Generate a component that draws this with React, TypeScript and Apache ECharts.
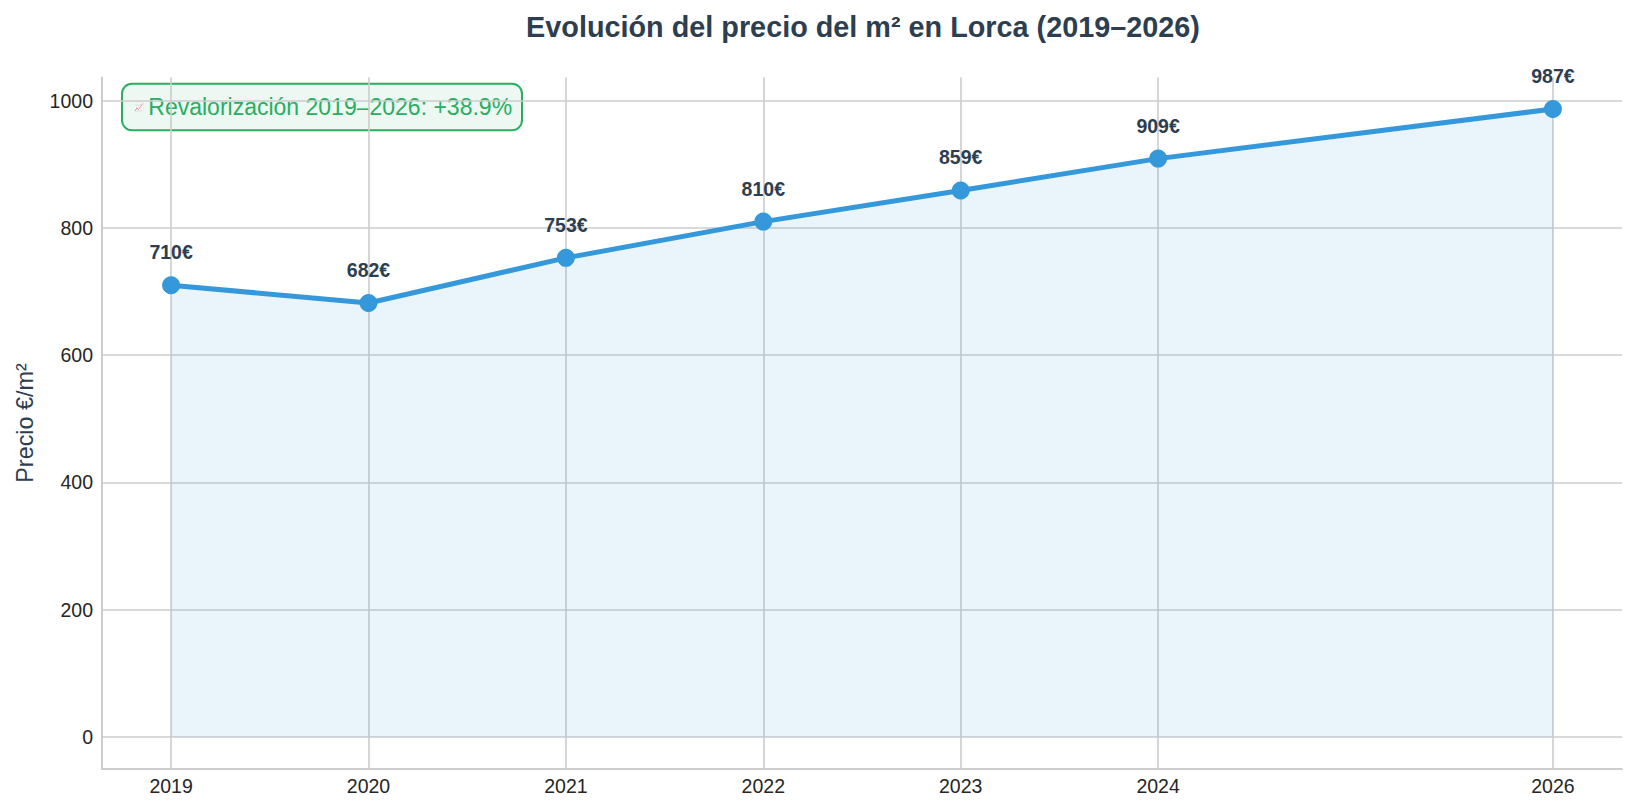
import React, { useEffect, useRef } from "react";
import * as echarts from "echarts";

const years = [2019, 2020, 2021, 2022, 2023, 2024, 2026];
const prices = [710, 682, 753, 810, 859, 909, 987];
const yTicks = [0, 200, 400, 600, 800, 1000];
const titleText = "Evolución del precio del m² en Lorca (2019–2026)";
const yName = "Precio €/m²";
const noteIcon = "📈";
const noteText = "Revalorización 2019–2026: +38.9%";

const FONT = '"Liberation Sans", Arial, Helvetica, sans-serif';

export default function App() {
  const ref = useRef<HTMLDivElement>(null);
  useEffect(() => {
    if (!ref.current) return;
    const chart = echarts.init(ref.current, undefined, { renderer: "svg" });
    const data = years.map((y, i) => [y, prices[i]]);
    chart.setOption({
      animation: false,
      backgroundColor: "#ffffff",
      textStyle: { fontFamily: FONT },
      title: {
        text: titleText,
        left: 858,
        top: 7,
        textAlign: "center",
        textStyle: { fontFamily: FONT, fontSize: 28.8, fontWeight: "bold", color: "#2c3e50" },
      },
      grid: { left: 102, right: 15, top: 77.6, bottom: 41.7, containLabel: false },
      xAxis: {
        type: "value",
        min: 2018.65,
        max: 2026.35,
        axisLine: { show: true, onZero: false, lineStyle: { color: "#cccccc", width: 2 } },
        axisTick: { show: false, customValues: years },
        axisLabel: {
          customValues: years,
          color: "#262626",
          fontSize: 19.5,
          fontFamily: FONT,
          margin: 8,
          formatter: (v: number) => String(v),
        },
        splitLine: { show: true, lineStyle: { color: "#cccccc", width: 1.6 } },
      },
      yAxis: {
        type: "value",
        min: -49.35,
        max: 1036.35,
        name: yName,
        nameLocation: "middle",
        nameGap: 66,
        nameRotate: 90,
        nameTextStyle: { color: "#2c3e50", fontSize: 23.4, fontFamily: FONT },
        axisLine: { show: true, onZero: false, lineStyle: { color: "#cccccc", width: 2 } },
        axisTick: { show: false, customValues: yTicks },
        axisLabel: {
          customValues: yTicks,
          color: "#262626",
          fontSize: 19.5,
          fontFamily: FONT,
          margin: 9,
          formatter: (v: number) => String(v),
        },
        splitLine: { show: true, lineStyle: { color: "#cccccc", width: 1.6 } },
      },
      series: [
        {
          type: "line",
          data,
          symbol: "circle",
          symbolSize: 18,
          lineStyle: { color: "#3498db", width: 5 },
          itemStyle: { color: "#3498db" },
          areaStyle: { color: "rgba(52,152,219,0.15)" },
          label: {
            show: true,
            position: "top",
            distance: 14,
            color: "#2c3e50",
            fontSize: 19.5,
            fontWeight: "bold",
            fontFamily: FONT,
            formatter: (p: any) => `${p.value[1]}€`,
          },
          z: 3,
        },
      ],
      graphic: [
        {
          type: "group",
          left: 121,
          top: 82.7,
          z: 10,
          children: [
            {
              type: "rect",
              shape: { x: 0, y: 0, width: 400, height: 46.6, r: 10 },
              style: { fill: "rgba(39,174,96,0.09)", stroke: "#27ae60", lineWidth: 2 },
            },
            {
              type: "text",
              x: 11.5,
              y: 23.3,
              style: {
                text: noteIcon,
                fill: "#27ae60",
                font: `8px ${FONT}`,
                verticalAlign: "middle",
                align: "left",
              },
            },
            {
              type: "text",
              x: 26.3,
              y: 23.3,
              style: {
                text: noteText,
                fill: "#27ae60",
                font: `23px ${FONT}`,
                verticalAlign: "middle",
                align: "left",
              },
            },
          ],
        },
      ],
    });
    return () => chart.dispose();
  }, []);
  return (
    <div
      ref={ref}
      style={{ position: "fixed", left: 0, top: 0, width: 1637, height: 810 }}
    />
  );
}
